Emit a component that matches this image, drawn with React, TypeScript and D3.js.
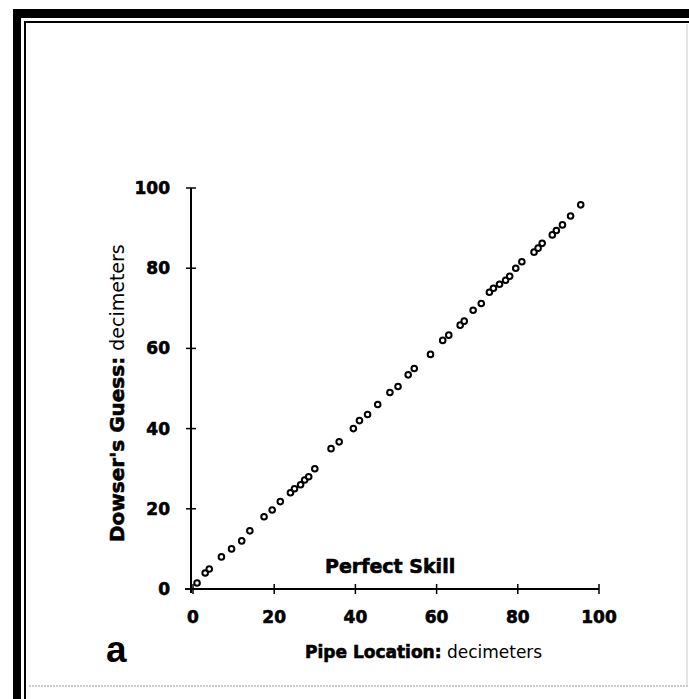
import React from 'react'
import * as d3 from 'd3'

const width = 689
const height = 699

// pipe location (x) vs dowser's guess (y), decimeters
const pipeLocation = [1, 3, 4, 7, 9.5, 12, 14, 17.5, 19.5, 21.5, 24, 25, 26.5, 27.5, 28.5, 30, 34, 36, 39.5, 41, 43, 45.5, 48.5, 50.5, 53, 54.5, 58.5, 61.5, 63, 65.8, 66.8, 69, 71, 73, 74, 75.5, 77, 78, 79.5, 81, 84, 85, 86, 88.5, 89.5, 91, 93, 95.5]
const dowserGuess = [1.5, 4, 5, 8, 10, 12, 14.5, 18, 19.7, 21.8, 24, 25, 26, 27.2, 28, 30, 35, 36.7, 40, 42, 43.5, 46, 49, 50.5, 53.4, 55, 58.5, 62, 63.3, 65.8, 66.8, 69.5, 71.2, 74, 75, 76, 77, 78, 80, 81.6, 84, 85, 86.2, 88.3, 89.4, 90.8, 93, 95.8]
const tickValues = [0, 20, 40, 60, 80, 100]

const font = "'DejaVu Sans', sans-serif"
// the scan's bold type is heavier than DejaVu Bold, so thicken it a bit
const heavy = { fontFamily: font, fontWeight: 'bold', stroke: '#000', strokeWidth: 0.6 }

export default function App() {
  const x = d3.scaleLinear().domain([0, 100]).range([193, 599])
  const y = d3.scaleLinear().domain([0, 100]).range([589, 188])
  const points = d3.zip(pipeLocation, dowserGuess)

  return (
    <svg width={width} height={height} style={{ position: 'absolute', left: 0, top: 0, display: 'block', background: '#fff' }}>
      {/* frame */}
      <line x1={17} y1={13.5} x2={width} y2={13.5} stroke='#000' strokeWidth={9} />
      <line x1={17} y1={9} x2={17} y2={height} stroke='#000' strokeWidth={8} />
      <line x1={25} y1={22} x2={width} y2={22} stroke='#000' strokeWidth={2} />
      <line x1={25} y1={21} x2={25} y2={height} stroke='#000' strokeWidth={2} />
      <line x1={29} y1={686} x2={width} y2={686} stroke='#999' strokeWidth={1} strokeDasharray='2,1' />
      <line x1={687} y1={24} x2={687} y2={686} stroke='#ccc' strokeWidth={1} />

      {/* axes */}
      <line x1={x(0) - 8} y1={y(0)} x2={x(100)} y2={y(0)} stroke='#000' strokeWidth={2} />
      <line x1={x(0) - 2} y1={y(0) + 4} x2={x(0) - 2} y2={y(100)} stroke='#000' strokeWidth={2} />
      {tickValues.map(t => (
        <g key={'x' + t}>
          <line x1={x(t)} x2={x(t)} y1={y(0) - 5} y2={y(0) + 5} stroke='#000' strokeWidth={1.5} />
          <text x={x(t)} y={623} textAnchor='middle' fontSize={17} {...heavy}>{t}</text>
        </g>
      ))}
      {tickValues.map(t => (
        <g key={'y' + t}>
          <line x1={x(0) - 7} x2={x(0) + 3} y1={y(t)} y2={y(t)} stroke='#000' strokeWidth={1.5} />
          <text x={170} y={y(t) + 6} textAnchor='end' fontSize={17} {...heavy}>{t}</text>
        </g>
      ))}

      {/* data */}
      {points.map(([px, py], i) => (
        <circle key={i} cx={x(px)} cy={y(py)} r={2.8} fill='#fff' stroke='#000' strokeWidth={2} />
      ))}

      <text x={325} y={573} fontSize={19} {...heavy}>Perfect Skill</text>

      {/* axis titles */}
      <text x={305} y={658} fontFamily={font} fontSize={17}>
        <tspan {...heavy}>Pipe Location:</tspan>
        <tspan> decimeters</tspan>
      </text>
      <text transform='translate(124,542) rotate(-90)' fontFamily={font} fontSize={20}>
        <tspan {...heavy}>Dowser's Guess:</tspan>
        <tspan fontSize={19}> decimeters</tspan>
      </text>

      <text x={106} y={662} fontFamily="'Liberation Sans', Arial, sans-serif" fontWeight='bold' fontSize={37}>a</text>
    </svg>
  )
}
